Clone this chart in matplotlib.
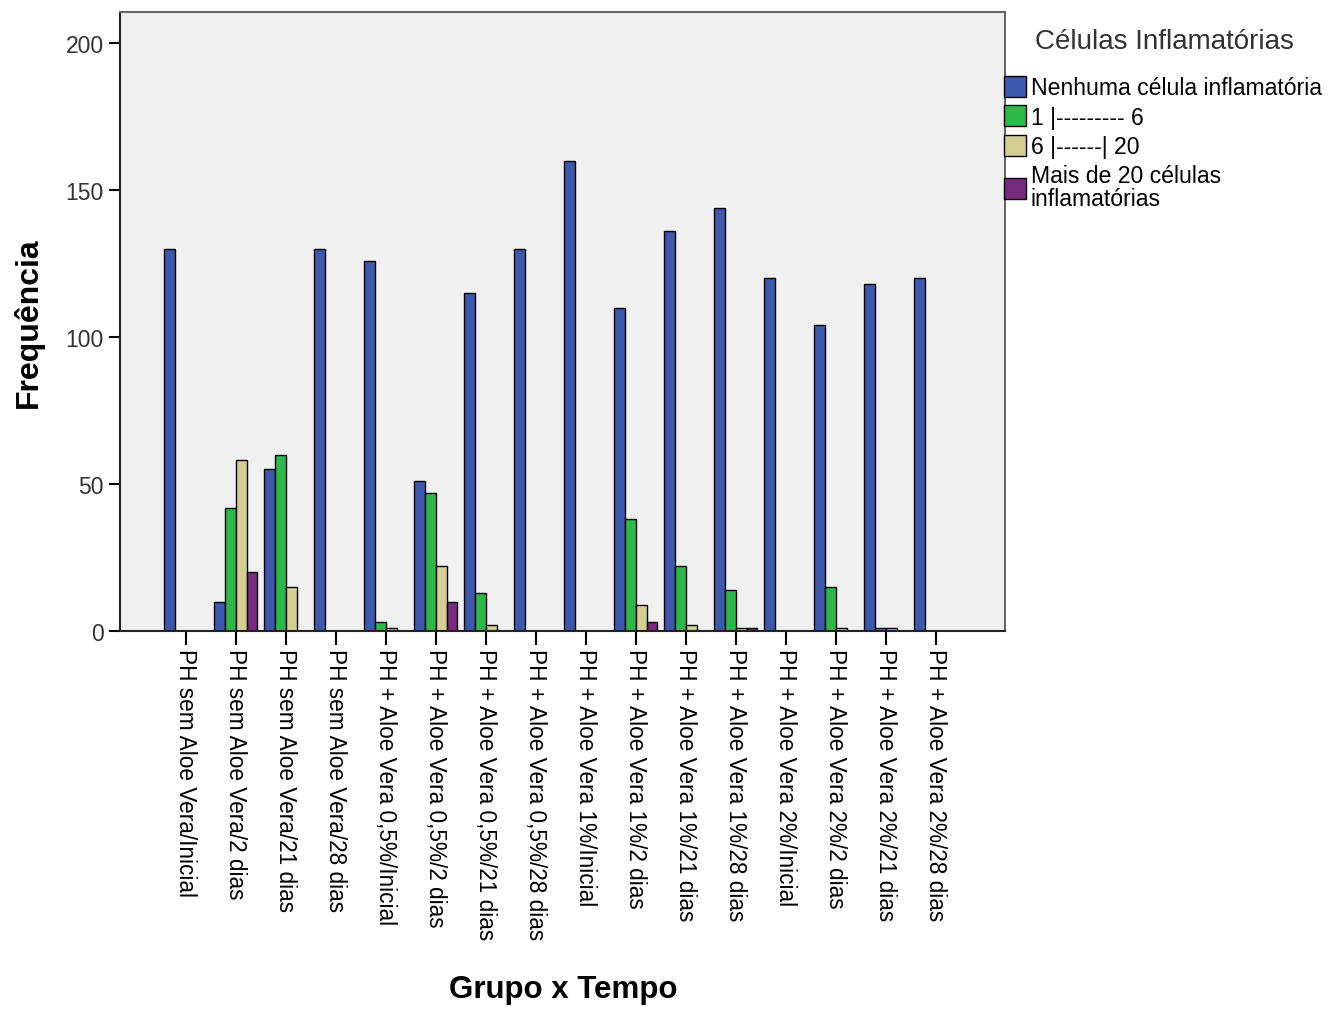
import numpy as np
import matplotlib
matplotlib.use("Agg")
import matplotlib.pyplot as plt

plt.rcParams['font.family'] = ['Liberation Sans', 'DejaVu Sans']

grupos = [
    "PH sem Aloe Vera/Inicial", "PH sem Aloe Vera/2 dias", "PH sem Aloe Vera/21 dias",
    "PH sem Aloe Vera/28 dias", "PH + Aloe Vera 0,5%/Inicial", "PH + Aloe Vera 0,5%/2 dias",
    "PH + Aloe Vera 0,5%/21 dias", "PH + Aloe Vera 0,5%/28 dias", "PH + Aloe Vera 1%/Inicial",
    "PH + Aloe Vera 1%/2 dias", "PH + Aloe Vera 1%/21 dias", "PH + Aloe Vera 1%/28 dias",
    "PH + Aloe Vera 2%/Inicial", "PH + Aloe Vera 2%/2 dias", "PH + Aloe Vera 2%/21 dias",
    "PH + Aloe Vera 2%/28 dias",
]

nenhuma = [130, 10, 55, 130, 126, 51, 115, 130, 160, 110, 136, 144, 120, 104, 118, 120]
de_1_a_6 = [0, 42, 60, 0, 3, 47, 13, 0, 0, 38, 22, 14, 0, 15, 1, 0]
de_6_a_20 = [0, 58, 15, 0, 1, 22, 2, 0, 0, 9, 2, 1, 0, 1, 1, 0]
mais_de_20 = [0, 20, 0, 0, 0, 10, 0, 0, 0, 3, 0, 1, 0, 0, 0, 0]

series = [nenhuma, de_1_a_6, de_6_a_20, mais_de_20]
rotulos = ["Nenhuma célula inflamatória", "1 |--------- 6", "6 |------| 20",
           "Mais de 20 células\ninflamatórias"]
cores = ["#3E58AC", "#2EB848", "#D4CE95", "#782B7C"]

fig = plt.figure(figsize=(13.32, 10.12), dpi=100)
ax = fig.add_axes([0.090, 0.3755, 0.6645, 0.6115])
ax.set_facecolor("#F0F0F0")

x = np.arange(len(grupos))
w = 0.215
for i, (vals, lab, cor) in enumerate(zip(series, rotulos, cores)):
    ax.bar(x + (i - 1.5) * w, vals, width=w, color=cor, edgecolor="black",
           linewidth=1.0, label=lab)

ax.set_xlim(-1.32, 16.38)
ax.set_ylim(0, 210.5)
ax.set_yticks([0, 50, 100, 150, 200])
ax.set_xticks(x)
ax.set_xticklabels(grupos, rotation=-90, ha="center", va="top", fontsize=16.3)
ax.tick_params(axis="y", labelsize=16.5, length=8, width=1.5, colors="black")
ax.tick_params(axis="x", length=10, width=1.5, pad=2)
for lbl in ax.get_yticklabels():
    lbl.set_color("#333333")

for s in ax.spines.values():
    s.set_linewidth(1.5)
    s.set_color("#222222")
ax.spines["top"].set_color("#666666")
ax.spines["right"].set_color("#666666")

ax.set_ylabel("Frequência", fontsize=23, fontweight="bold", labelpad=16)
# x title placed in figure coords so long tick labels don't push it off the page
fig.text(563 / 1332, 1 - 990 / 1012, "Grupo x Tempo", fontsize=22.5,
         fontweight="bold", ha="center", va="center")

# legend title drawn separately so the gap above the entries can be set freely
fig.text(1035 / 1332, 1 - 42 / 1012, "Células Inflamatórias", fontsize=20,
         color="#333333", ha="left", va="center")
leg = ax.legend(loc="upper left", bbox_to_anchor=(1004 / 1332, 1 - 77 / 1012),
                bbox_transform=fig.transFigure, frameon=False,
                fontsize=16.6, handlelength=0.95, handleheight=1.0,
                handletextpad=0.2, labelspacing=0.27, borderaxespad=0,
                borderpad=0)
for t in leg.get_texts():
    t.set_linespacing(1.0)

fig.savefig("out.png", dpi=100)
